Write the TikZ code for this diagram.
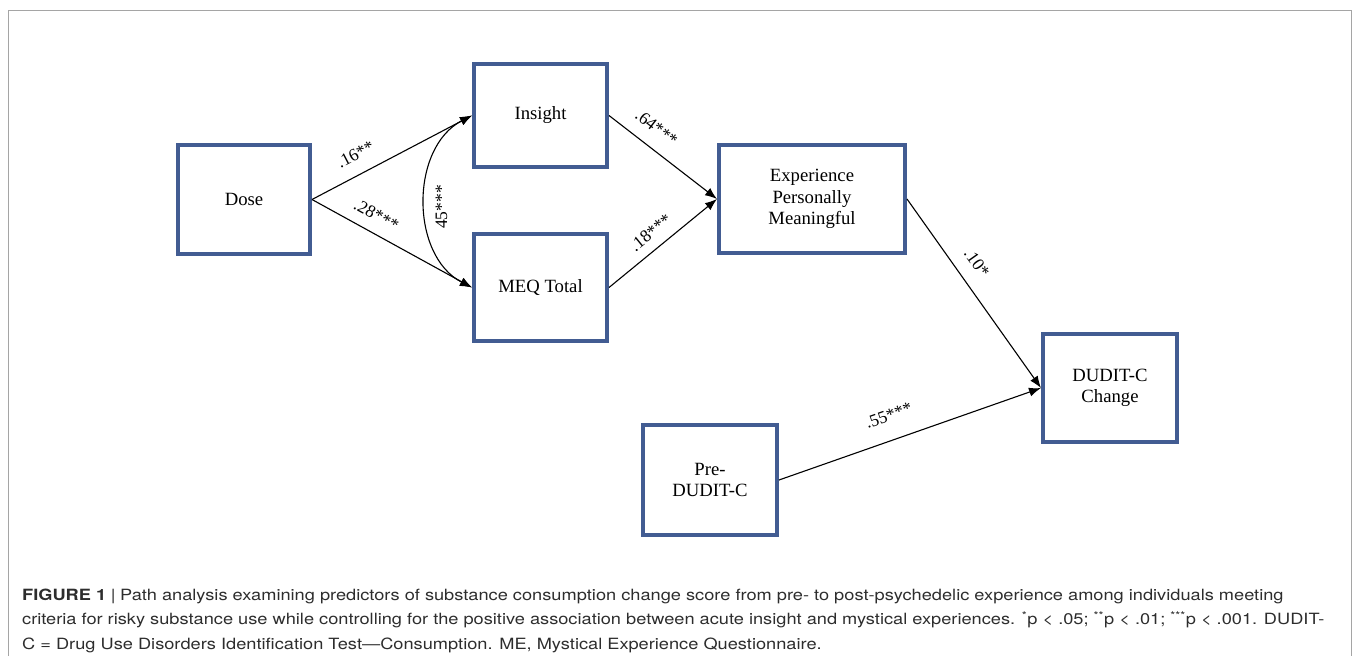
\documentclass[tikz,border=0pt]{standalone}
\usepackage{fontspec}
\setmainfont{Liberation Serif}
\newfontfamily\capfont[FakeStretch=1.175]{TeX Gyre Heros}
\usetikzlibrary{arrows.meta,calc}
\definecolor{boxblue}{RGB}{66,92,146}
\definecolor{framegray}{RGB}{165,165,165}
\definecolor{captext}{RGB}{45,45,45}
\begin{document}
\begin{tikzpicture}[x=1pt,y=-1pt,
  box/.style={draw=boxblue, line width=3.7pt, fill=white, inner sep=0pt, align=center,
    font=\fontsize{18.7}{21.5}\selectfont},
  conn/.style={line width=1.1pt, -{Latex[length=12pt,width=9pt]}},
  lab/.style={font=\fontsize{17.5}{20}\selectfont, inner sep=1pt, sloped},
  captxt/.style={anchor=base west, inner sep=0pt, text=captext,
    font=\capfont\fontsize{15.5}{18}\selectfont}]
\useasboundingbox (0,0) rectangle (1356,656);
\draw[framegray, line width=1.5pt] (8.5,656) -- (8.5,10.5) -- (1351.5,10.5) -- (1351.5,656);

\node[box, minimum width=132.3pt, minimum height=109.3pt] (dose) at (244,199.5) {Dose};
\node[box, minimum width=133.3pt, minimum height=103.3pt] (ins) at (540.5,115.5) {Insight};
\node[box, minimum width=133.3pt, minimum height=107.3pt] (meq) at (540.5,287.5) {MEQ Total};
\node[box, minimum width=186.3pt, minimum height=108.3pt] (exp) at (812,199) {Experience\\Personally\\Meaningful};
\node[box, minimum width=134.3pt, minimum height=108.3pt] (dud) at (1110,388) {DUDIT-C\\Change};
\node[box, minimum width=134.3pt, minimum height=110.3pt] (pre) at (710,480) {Pre-\\DUDIT-C};

\draw[conn] (dose.east) -- node[lab, pos=0.33, above=12.5pt] {.16**} (ins.west);
\draw[conn] (dose.east) -- node[lab, pos=0.35, above=10pt] {.28***} (meq.west);
\draw[line width=1.1pt, {Latex[length=12pt,width=9pt]}-{Latex[length=12pt,width=9pt]}]
  (ins.west) .. controls ($(ins.west)+(-62,32)$) and ($(meq.west)+(-62,-32)$) ..
  coordinate[pos=0.5] (cmid) (meq.west);
\node[rotate=90, inner sep=1pt, font=\fontsize{17.5}{20}\selectfont] (corr) at ($(cmid)+(16,5.5)$) {45***};
\draw[conn] (ins.east) -- node[lab, pos=0.33, above=12pt] {.64***} (exp.west);
\draw[conn] (meq.east) -- node[lab, pos=0.48, above=8.5pt] {.18***} (exp.west);
\draw[conn] (exp.east) -- node[lab, pos=0.40, above=12.5pt] {.10*} (dud.west);
\draw[conn] (pre.east) -- node[lab, pos=0.45, above=17pt] {.55***} (dud.west);

\node[captxt] (cap1) at (22,600) {\textbf{FIGURE 1}\hspace{0.3em}|\hspace{0.3em}Path analysis examining predictors of substance consumption change score from pre- to post-psychedelic experience among individuals meeting};
\node[captxt] (cap2) at (22,624.5) {criteria for risky substance use while controlling for the positive association between acute insight and mystical experiences. \textsuperscript{*}p < .05; \textsuperscript{**}p < .01; \textsuperscript{***}p < .001. DUDIT-};
\node[captxt] (cap3) at (22,649) {C = Drug Use Disorders Identification Test—Consumption. ME, Mystical Experience Questionnaire.};
\end{tikzpicture}
\end{document}
